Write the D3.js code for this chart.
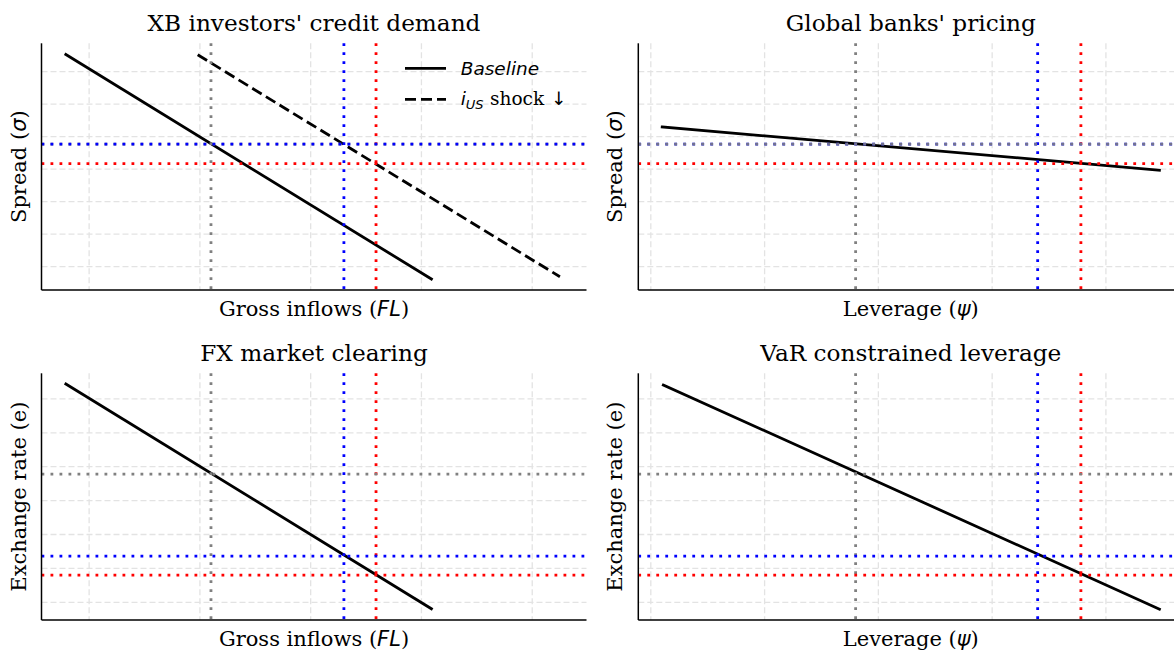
<!DOCTYPE html>
<html>
<head>
<meta charset="utf-8">
<script src="https://cdn.jsdelivr.net/npm/d3@7"></script>
<style>
  body { margin: 0; background: #fff; }
  .serif { font-family: "DejaVu Serif", serif; }
  .math { font-family: "DejaVu Sans", sans-serif; font-style: italic; }
</style>
</head>
<body>
<div id="chart"></div>
<script>
// hidden tick values, only used for the grid
let gridX = [1, 2, 3, 4, 5];
let gridY = [1, 2, 3, 4, 5, 6, 7];

// XB investors' credit demand
let flBase = [0.79, 4.09];
let spreadBase = [7.53, 0.62];
let flShock = [1.98, 5.25];
let spreadShock = [7.52, 0.69];

// Global banks' pricing
let psiPricing = [1.1, 5.47];
let spreadPricing = [5.3, 3.97];

// FX market clearing
let flFx = [0.79, 4.09];
let eFx = [7.44, 0.81];

// VaR constrained leverage
let psiVar = [1.11, 5.47];
let eVar = [7.41, 0.8];

// equilibrium markers: initial (gray), blue, red
let refColors = ["gray", "blue", "red"];
let refFL = [2.1, 3.3, 3.59];
let refPsi = [2.8, 4.4, 4.78];
let refSpread = [4.77, 4.77, 4.17];
let refE = [4.78, 2.36, 1.8];

// axis limits
let flDomain = [0.57, 5.49];
let psiDomain = [0.89, 5.68];
let spreadDomain = [0.283, 7.874];
let eDomain = [0.478, 7.755];

let svgWidth = 1174;
let svgHeight = 651;
let panelW = 545;
let panelH = 246.7;

let svg = d3.select("#chart")
    .append("svg")
    .attr("width", svgWidth)
    .attr("height", svgHeight);

svg.append("rect").attr("width", svgWidth).attr("height", svgHeight).attr("fill", "#fff");

let zip = (xs, ys) => xs.map((x, i) => ({x: x, y: ys[i]}));

let panels = [
    {
        left: 41.5, top: 43.3, title: "XB investors' credit demand",
        xName: "Gross inflows (", xSym: "FL", yName: "Spread (", ySym: "σ",
        xDomain: flDomain, yDomain: spreadDomain,
        curves: [
            {pts: zip(flBase, spreadBase), dash: null},
            {pts: zip(flShock, spreadShock), dash: "11,5"}
        ],
        vRefs: refFL, hRefs: refSpread, hOrder: [0, 1, 2], legend: true
    },
    {
        left: 638.3, top: 43.3, title: "Global banks' pricing",
        xName: "Leverage (", xSym: "ψ", yName: "Spread (", ySym: "σ",
        xDomain: psiDomain, yDomain: spreadDomain,
        curves: [{pts: zip(psiPricing, spreadPricing), dash: null}],
        vRefs: refPsi, hRefs: refSpread, hOrder: [1, 0, 2], legend: false
    },
    {
        left: 41.5, top: 373.3, title: "FX market clearing",
        xName: "Gross inflows (", xSym: "FL", yName: "Exchange rate (e)", ySym: null,
        xDomain: flDomain, yDomain: eDomain,
        curves: [{pts: zip(flFx, eFx), dash: null}],
        vRefs: refFL, hRefs: refE, hOrder: [0, 1, 2], legend: false
    },
    {
        left: 638.3, top: 373.3, title: "VaR constrained leverage",
        xName: "Leverage (", xSym: "ψ", yName: "Exchange rate (e)", ySym: null,
        xDomain: psiDomain, yDomain: eDomain,
        curves: [{pts: zip(psiVar, eVar), dash: null}],
        vRefs: refPsi, hRefs: refE, hOrder: [0, 1, 2], legend: false
    }
];

panels.forEach(function(p) {
    let x = d3.scaleLinear().domain(p.xDomain).range([0, panelW]);
    let y = d3.scaleLinear().domain(p.yDomain).range([panelH, 0]);

    let g = svg.append("g").attr("transform", `translate(${p.left},${p.top})`);

    // grid
    g.append("g").selectAll("line").data(gridX).enter().append("line")
        .attr("x1", d => x(d)).attr("x2", d => x(d))
        .attr("y1", 0).attr("y2", panelH)
        .attr("stroke", "#e3e3e3").attr("stroke-width", 1.3)
        .attr("stroke-dasharray", "6,3");
    g.append("g").selectAll("line").data(gridY).enter().append("line")
        .attr("x1", 0).attr("x2", panelW)
        .attr("y1", d => y(d)).attr("y2", d => y(d))
        .attr("stroke", "#e3e3e3").attr("stroke-width", 1.3)
        .attr("stroke-dasharray", "6,3");

    // curves
    let line = d3.line().x(d => x(d.x)).y(d => y(d.y));
    p.curves.forEach(function(c) {
        g.append("path")
            .attr("d", line(c.pts))
            .attr("fill", "none")
            .attr("stroke", "#000")
            .attr("stroke-width", 2.8)
            .attr("stroke-linecap", c.dash ? "butt" : "square")
            .attr("stroke-dasharray", c.dash);
    });

    // reference lines
    p.vRefs.forEach(function(v, i) {
        g.append("line")
            .attr("x1", x(v)).attr("x2", x(v))
            .attr("y1", 0).attr("y2", panelH)
            .attr("stroke", refColors[i]).attr("stroke-width", 2.8)
            .attr("stroke-dasharray", "2.8,6.2");
    });
    // in the pricing panel the gray line lies over the blue one
    p.hOrder.forEach(function(i, k) {
        g.append("line")
            .attr("x1", 0).attr("x2", panelW)
            .attr("y1", y(p.hRefs[i])).attr("y2", y(p.hRefs[i]))
            .attr("stroke", refColors[i]).attr("stroke-width", 2.8)
            .attr("stroke-opacity", (k === 1 && p.hOrder[0] === 1) ? 0.9 : 1)
            .attr("stroke-dasharray", "2.8,6.2");
    });

    // spines
    g.append("line").attr("x1", 0).attr("x2", 0).attr("y1", 0).attr("y2", panelH)
        .attr("stroke", "#000").attr("stroke-width", 1.5);
    g.append("line").attr("x1", 0).attr("x2", panelW).attr("y1", panelH).attr("y2", panelH)
        .attr("stroke", "#000").attr("stroke-width", 1.5);

    // title
    g.append("text").attr("class", "serif")
        .attr("x", panelW / 2).attr("y", -12)
        .attr("text-anchor", "middle").attr("font-size", 23.2)
        .text(p.title);

    // x label
    let xl = g.append("text").attr("class", "serif")
        .attr("x", panelW / 2).attr("y", panelH + 26)
        .attr("text-anchor", "middle").attr("font-size", 21);
    xl.append("tspan").text(p.xName);
    xl.append("tspan").attr("class", "math").text(p.xSym);
    xl.append("tspan").text(")");

    // y label
    let yl = g.append("text").attr("class", "serif")
        .attr("transform", `translate(-16,${panelH / 2}) rotate(-90)`)
        .attr("text-anchor", "middle").attr("font-size", 21);
    yl.append("tspan").text(p.yName);
    if (p.ySym) {
        yl.append("tspan").attr("class", "math").text(p.ySym);
        yl.append("tspan").text(")");
    }

    // legend
    if (p.legend) {
        let lg = g.append("g").attr("transform", `translate(${405 - p.left},${68.3 - p.top})`);
        lg.append("line").attr("x1", 0).attr("x2", 41).attr("y1", 0).attr("y2", 0)
            .attr("stroke", "#000").attr("stroke-width", 2.8);
        lg.append("line").attr("x1", 0).attr("x2", 41).attr("y1", 31).attr("y2", 31)
            .attr("stroke", "#000").attr("stroke-width", 2.8)
            .attr("stroke-dasharray", "11,5");
        lg.append("text").attr("class", "math")
            .attr("x", 55.7).attr("y", 6.7).attr("font-size", 18.5)
            .text("Baseline");
        let t2 = lg.append("text").attr("class", "serif")
            .attr("x", 55.7).attr("y", 36.5).attr("font-size", 18.5);
        t2.append("tspan").attr("class", "math").text("i");
        t2.append("tspan").attr("class", "math").attr("font-size", 13).attr("dy", 4).text("US");
        t2.append("tspan").attr("x", 85).attr("dy", -4).text("shock");
        t2.append("tspan").attr("x", 146).attr("font-family", "DejaVu Sans").text("↓");
    }
});
</script>
</body>
</html>
